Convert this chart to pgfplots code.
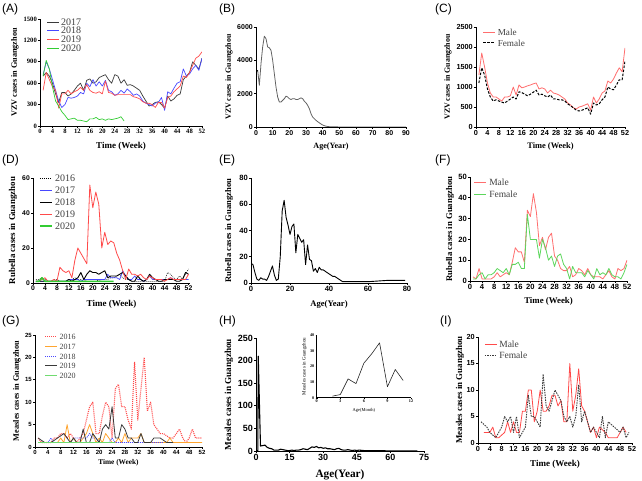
\documentclass[border=0pt]{standalone}
\usepackage{fontspec}
\setmainfont{Liberation Serif}
\setsansfont{Liberation Sans}
\usepackage{pgfplots}
\usepackage{pgfplotstable}
\pgfplotsset{compat=1.18}
\newcommand{\fs}[1]{\fontsize{#1}{#1}\selectfont}
\definecolor{cblue}{HTML}{4848FF}
\definecolor{cred}{HTML}{FF4A4A}
\definecolor{cgreen}{HTML}{33CC33}
\definecolor{cpink}{HTML}{FF6E6E}
\definecolor{corange}{HTML}{FFA530}
\definecolor{cdark}{HTML}{3A3A3A}
\pgfplotsset{
  legend image code/.code={\draw[#1] (0pt,0pt) -- (12pt,0pt);},
  panel/.style={scale only axis, anchor=south west,
    axis x line*=bottom, axis y line*=left,
    axis line style={-, line width=0.8pt},
    every tick/.style={black, line width=0.7pt},
    tick align=outside, major tick length=2pt, tick pos=left,
    /pgf/number format/assume math mode=true,
    /pgf/number format/1000 sep={},
    xticklabel style={inner sep=1pt}, yticklabel style={inner sep=1pt},
    legend cell align=left,
    legend style={draw=none, fill=none, anchor=north west, inner sep=0pt, outer sep=0pt, xshift=3.5pt, text=black!75},
    every axis plot/.append style={line width=0.7pt, line join=round, mark=none},
  },
}
\pgfplotstableread{
w a17 a18 a19 a20
1 700 720 500 700
2 750 900 750 920
3 700 800 650 800
4 600 650 550 550
5 450 500 500 350
6 330 350 250 280
7 470 260 450 200
8 470 300 450 150
9 420 400 500 90
10 450 390 450 100
11 500 400 480 110
12 560 420 500 80
13 600 470 540 80
14 500 450 500 70
15 640 600 580 60
16 660 550 500 100
17 600 650 470 100
18 620 560 460 120
19 680 620 480 90
20 700 560 450 100
21 720 640 630 80
22 650 500 470 100
23 600 480 460 90
24 720 430 430 100
25 700 450 440 110
26 600 500 440 130
27 650 460 440 70
28 570 520 440 nan
29 580 480 440 nan
30 560 430 410 nan
31 530 450 400 nan
32 500 420 380 nan
33 420 350 340 nan
34 350 320 320 nan
35 280 300 320 nan
36 300 280 300 nan
37 330 320 260 nan
38 340 330 330 nan
39 300 400 330 nan
40 250 220 250 nan
41 420 480 400 nan
42 350 450 420 nan
43 380 530 480 nan
44 430 600 520 nan
45 450 620 560 nan
46 650 800 700 nan
47 700 700 680 nan
48 750 730 750 nan
49 900 800 850 nan
50 850 850 950 nan
51 800 780 980 nan
52 950 950 1040 nan
}\tabA
\pgfplotstableread{
age v
1 3400
2 2500
3 3800
4 4800
5 5450
6 5300
7 4800
8 4750
9 4600
10 4000
11 3200
12 2400
13 1800
14 1500
15 1500
16 1600
17 1700
18 1850
19 1800
20 1700
21 1650
22 1700
23 1700
24 1650
25 1650
26 1700
27 1750
28 1700
29 1550
30 1450
31 1300
32 1100
33 800
34 600
35 500
36 400
37 320
38 250
39 180
40 120
41 80
42 50
43 30
44 20
45 10
50 5
60 2
70 1
80 0
90 0
}\tabB
\pgfplotstableread{
w m f
1 1300 1100
2 1850 1480
3 1500 1300
4 1100 950
5 850 750
6 750 650
7 750 680
8 700 650
9 650 620
10 750 600
11 750 650
12 780 700
13 1000 750
14 800 700
15 1050 880
16 980 860
17 1000 820
18 1030 780
19 1050 820
20 1080 870
21 1100 920
22 950 800
23 980 820
24 950 780
25 850 750
26 920 800
27 850 700
28 830 700
29 800 680
30 750 680
31 700 650
32 600 580
33 550 530
34 480 480
35 450 420
36 500 400
37 520 420
38 550 450
39 580 480
40 420 320
41 750 600
42 600 550
43 700 580
44 850 680
45 900 750
46 1150 1000
47 1100 950
48 1200 930
49 1350 1050
50 1480 1180
51 1380 1180
52 1980 1650
}\tabC
\pgfplotstableread{
w d16 d17 d18 d19 d20
1 2 1 1 1 1
2 2 1 1 1 1
3 3 1 1 2 3
4 2 1 1 3 1
5 1 1 1 1 1
6 1 1 1 1 1
7 2 1 1 2 1
8 2 1 1 1 1
9 1 1 1 9 1
10 1 1 1 7 1
11 1 1 1 6 1
12 2 2 2 7 1
13 2 2 1 3 1
14 3 2 2 13 1
15 2 2 3 20 1
16 2 1 6 17 1
17 1 2 2 14 1
18 2 2 5 11 1
19 2 2 7 56 1
20 2 2 6 43 1
21 2 2 6 52 1
22 1 2 5 45 1
23 2 2 6 20 1
24 2 2 7 29 1
25 2 5 3 22 1
26 3 3 4 24 1
27 3 3 4 23 1
28 4 3 4 17 nan
29 5 2 5 13 nan
30 3 7 6 7 nan
31 2 4 4 2 nan
32 2 2 2 8 nan
33 1 2 1 5 nan
34 1 4 1 5 nan
35 1 2 4 4 nan
36 1 2 2 5 nan
37 1 1 1 3 nan
38 1 2 2 2 nan
39 1 4 5 4 nan
40 1 2 3 3 nan
41 1 2 2 2 nan
42 1 2 1 2 nan
43 1 2 1 2 nan
44 1 2 2 1 nan
45 6 2 2 2 nan
46 5 3 2 3 nan
47 3 2 2 2 nan
48 2 2 1 2 nan
49 4 2 1 2 nan
50 2 2 2 2 nan
51 5 2 6 2 nan
52 8 2 5 5 nan
}\tabD
\pgfplotstableread{
age v
0 15
1 14
2 8
3 3
4 2
5 4
6 3
7 3
8 2
9 5
10 9
11 13
12 6
13 2
14 3
15 20
16 55
17 63
18 50
19 44
20 37
21 43
22 45
23 23
24 37
25 34
26 31
27 33
28 14
29 29
30 18
31 17
32 9
33 11
34 8
35 12
36 10
37 10
38 9
39 8
40 7
41 6
42 5
43 5
44 4
45 3
46 2
47 1
50 1
60 1
70 2
79 2
}\tabE
\pgfplotstableread{
w m f
1 2 1
2 1 1
3 6 3
4 1 4
5 1 1
6 1 3
7 1 3
8 2 4
9 4 6
10 2 5
11 3 4
12 4 6
13 3 3
14 9 8
15 16 8
16 14 9
17 14 6
18 9 6
19 34 32
20 31 20
21 42 20
22 33 20
23 17 11
24 21 20
25 15 16
26 21 10
27 23 12
28 12 7
29 10 12
30 6 13
31 5 8
32 5 6
33 7 1
34 2 7
35 3 4
36 6 4
37 5 4
38 3 2
39 6 5
40 3 3
41 2 1
42 2 6
43 2 3
44 1 4
45 3 3
46 5 6
47 2 3
48 1 2
49 6 2
50 5 1
51 6 4
52 10 8
}\tabF
\pgfplotstableread{
w g16 g17 g18 g19 g20
1 2 1 1 2 1
2 1 1 1 1.5 1
3 1 1 1 1 1
4 1 1 1 1 1
5 1 1 2 1 1
6 2 1 1 1.5 1
7 2 1 1 2 1
8 3 2 1 2.5 1
9 3 1 1 3 1
10 2 5 1 2 1
11 3 1 1 1 1
12 2 2 2 2 1
13 1 1 2 1 1
14 2 1 2 1 1
15 3 2 2 4 1
16 6 3 2 1 1
17 9 5 3 1 1
18 10 3 2 3 1
19 3 1 2 2 1
20 3 2 1 1 1
21 7 1 1 4 1
22 10 3 1 5 1
23 9 2 1 4 1
24 2 1 2 9 1
25 13 1 1 2 1
26 14 2 1 2 nan
27 9 1 1 5 nan
28 9 3 1 4 nan
29 6 1 1 2 nan
30 4 2 1 2 nan
31 19 2 1 1 nan
32 6 2 1 1 nan
33 13 3 1 3 nan
34 20 1 1 1 nan
35 8 1 1 1 nan
36 10 1 1 1 nan
37 5 1 1 2 nan
38 4 1 1 2 nan
39 3 1 1 2 nan
40 3 1 1 1.5 nan
41 2.5 1 nan 1 nan
42 2 2 nan 1 nan
43 2 1 nan 1 nan
44 3 1 nan nan nan
45 4 1 nan nan nan
46 2 1 nan nan nan
47 1 1 nan nan nan
48 2 1 nan nan nan
49 4 1 nan nan nan
50 2 1 nan nan nan
51 2 1 nan nan nan
52 2 1 nan nan nan
}\tabG
\pgfplotstableread{
age v
0.8 0
1 210
2 11
3 12
4 13
5 8
6 6
7 5
8 2
9 2
10 2
11 4
12 3
13 2
14 1
15 1
16 2
17 1
18 2
19 2
20 3
21 5
22 4
23 3
24 6
25 9
26 8
27 10
28 7
29 8
30 6
31 7
32 5
33 5
34 4
35 3
36 5
37 6
38 3
39 2
40 2
41 3
42 2
43 1
44 2
45 1
46 2
48 1
50 1
55 1
60 0
72 0
}\tabH
\pgfplotstableread{
m v
2 1
3 2
4 12
5 9
6 22
7 28
8 35
9 7
10 18
11 11
}\tabHi
\pgfplotstableread{
w m f
1 nan 4
2 2 3.5
3 2 3
4 2 2
5 3 1.5
6 1 1
7 1 2
8 1.5 3
9 2 5
10 4 4
11 2 5
12 4 2
13 2 5
14 2 1
15 6 2
16 6 3
17 10 9
18 10 5
19 4 5
20 6 4
21 10 3
22 6 13
23 6 7
24 7 6
25 9 8
26 9 10
27 7 9
28 8 8
29 4 5
30 4 4
31 15 5
32 6 3
33 9 5
34 14 11
35 7 4
36 6 6
37 4 4
38 2 2
39 3 3
40 1 2
41 3 1
42 2.5 5
43 2 1
44 1 4
45 1 3.5
46 1 3
47 1 2.5
48 2 2
49 3 3
50 2 1
51 nan 2
}\tabI
\begin{document}
\begin{tikzpicture}[x=1pt,y=1pt]
\path[use as bounding box] (0pt,0pt) rectangle (642pt,480pt);
% panel letters
\foreach \l/\px/\py in {A/2/476, B/219/476, C/435/476, D/2/325, E/219/325, F/435/325, G/2/164, H/219/164, I/440/164}
  \node[anchor=north west, inner sep=0pt, font=\sffamily\fs{12}] at (\px pt,\py pt) {(\l)};
% ---------------- A
\begin{axis}[panel, at={(40pt,354pt)}, width=162pt, height=107pt,
  xmin=0, xmax=52, ymin=0, ymax=1500,
  xtick={0,4,...,52}, ytick={0,300,...,1500},
  tick label style={font=\bfseries\fs{6.6}},
  xlabel={Time (Week)}, ylabel={VZV cases in Guangzhou},
  xlabel style={font=\bfseries\fs{9}, at={(axis description cs:0.5,-0.187)}, anchor=center},
  ylabel style={font=\bfseries\fs{8.2}, at={(axis description cs:-0.154,0.5)}, anchor=center},
  legend style={at={(axis description cs:0.0225,1.0126)}, font=\fs{10},
    nodes={text height=6pt, text depth=0pt, inner sep=1.35pt}},
]
\addplot[cdark] table[x=w,y=a17] {\tabA};
\addplot[cblue] table[x=w,y=a18] {\tabA};
\addplot[cred] table[x=w,y=a19] {\tabA};
\addplot[cgreen] table[x=w,y=a20] {\tabA};
\legend{2017,2018,2019,2020}
\end{axis}
% ---------------- B
\begin{axis}[panel, at={(256pt,353pt)}, width=150pt, height=100pt,
  xmin=0, xmax=90, ymin=0, ymax=6000,
  xtick={0,10,...,90}, ytick={0,2000,4000,6000},
  tick label style={font=\sffamily\bfseries\fs{7}},
  xlabel={Age(Year)}, ylabel={VZV cases in Guangzhou},
  xlabel style={font=\bfseries\fs{8.1}, at={(axis description cs:0.5,-0.2)}, anchor=center},
  ylabel style={font=\bfseries\fs{7.9}, at={(axis description cs:-0.18,0.5)}, anchor=center},
]
\addplot[black!62, line width=0.8pt] table[x=age,y=v] {\tabB};
\addplot[black, line width=0.9pt] coordinates {(0,400) (0.2,3300) (1,3400)};
\end{axis}
% ---------------- C
\begin{axis}[panel, at={(476pt,353pt)}, width=149pt, height=100pt,
  xmin=0, xmax=52, ymin=0, ymax=2500,
  xtick={0,4,...,52}, ytick={0,500,...,2500},
  tick label style={font=\sffamily\bfseries\fs{7.3}},
  xlabel={Time (Week)}, ylabel={VZV cases in Guangzhou},
  xlabel style={font=\bfseries\fs{8.4}, at={(axis description cs:0.5,-0.19)}, anchor=center},
  ylabel style={font=\bfseries\fs{7.9}, at={(axis description cs:-0.188,0.5)}, anchor=center},
  legend style={at={(axis description cs:0.022,1.005)}, font=\fs{9.2},
    nodes={text height=7pt, text depth=0pt, inner sep=2pt}},
]
\addplot[cpink, line width=0.8pt] table[x=w,y=m] {\tabC};
\addplot[black, line width=1pt, dash pattern=on 2.5pt off 1.5pt] table[x=w,y=f] {\tabC};
\legend{Male,Female}
\end{axis}
% ---------------- D
\begin{axis}[panel, at={(33pt,197pt)}, width=157pt, height=105pt,
  xmin=0, xmax=52.5, ymin=0, ymax=60,
  xtick={0,4,...,52}, ytick={0,20,40,60},
  tick label style={font=\sffamily\bfseries\fs{6.8}},
  xlabel={Time (Week)}, ylabel={Rubella cases in Guangzhou},
  xlabel style={font=\bfseries\fs{9}, at={(axis description cs:0.5,-0.2)}, anchor=center},
  ylabel style={font=\bfseries\fs{8.9}, at={(axis description cs:-0.127,0.5)}, anchor=center},
  legend style={at={(axis description cs:0.016,1.057)}, font=\fs{10},
    nodes={text height=7pt, text depth=0pt, inner sep=2.5pt}},
]
\addplot[black, line width=0.5pt, dash pattern=on 1pt off 1pt] table[x=w,y=d16] {\tabD};
\addplot[cblue] table[x=w,y=d17] {\tabD};
\addplot[black, line width=0.9pt] table[x=w,y=d18] {\tabD};
\addplot[cred, line width=0.8pt] table[x=w,y=d19] {\tabD};
\addplot[cgreen, line width=1.5pt] table[x=w,y=d20] {\tabD};
\legend{2016,2017,2018,2019,2020}
\end{axis}
% ---------------- E
\begin{axis}[panel, at={(251pt,197pt)}, width=156pt, height=105pt,
  xmin=0, xmax=80, ymin=0, ymax=80,
  xtick={0,20,...,80}, ytick={0,20,...,80},
  tick label style={font=\sffamily\bfseries\fs{7.6}},
  xlabel={Age(Year)}, ylabel={Rubella cases in Guangzhou},
  xlabel style={font=\bfseries\fs{8.6}, at={(axis description cs:0.5,-0.2)}, anchor=center},
  ylabel style={font=\bfseries\fs{8.6}, at={(axis description cs:-0.141,0.5)}, anchor=center},
]
\addplot[black, line width=0.9pt] table[x=age,y=v] {\tabE};
\end{axis}
% ---------------- F
\begin{axis}[panel, at={(470pt,199pt)}, width=157pt, height=104pt,
  xmin=0, xmax=52, ymin=0, ymax=50,
  xtick={0,4,...,52}, ytick={0,10,...,50},
  tick label style={font=\sffamily\bfseries\fs{7.6}},
  xlabel={Time (Week)}, ylabel={Rubella cases in Guangzhou},
  xlabel style={font=\bfseries\fs{8.8}, at={(axis description cs:0.5,-0.2)}, anchor=center},
  ylabel style={font=\bfseries\fs{8.7}, at={(axis description cs:-0.127,0.5)}, anchor=center},
  legend style={at={(axis description cs:0.003,1.007)}, font=\fs{9.5},
    nodes={text height=7pt, text depth=0pt, inner sep=2.5pt}},
]
\addplot[cpink, line width=0.8pt] table[x=w,y=m] {\tabF};
\addplot[cgreen!80!white, line width=0.8pt] table[x=w,y=f] {\tabF};
\legend{Male,Female}
\end{axis}
% ---------------- G
\begin{axis}[panel, at={(35pt,33pt)}, width=167pt, height=112pt,
  xmin=0, xmax=52, ymin=0, ymax=25,
  xtick={0,4,...,52}, ytick={0,5,...,25},
  tick label style={font=\sffamily\bfseries\fs{6}},
  xlabel={Time (Week)}, ylabel={Measles cases in Guangzhou},
  xlabel style={font=\bfseries\fs{7.3}, at={(axis description cs:0.5,-0.143)}, anchor=center},
  ylabel style={font=\bfseries\fs{8.3}, at={(axis description cs:-0.108,0.5)}, anchor=center},
  legend style={at={(axis description cs:0.036,1.029)}, font=\fs{8},
    nodes={text height=5.75pt, text depth=0pt, inner sep=2pt}},
]
\addplot[cred, line width=1.1pt, dash pattern=on 1pt off 1pt] table[x=w,y=g16] {\tabG};
\addplot[corange, line width=0.8pt] table[x=w,y=g17] {\tabG};
\addplot[cblue, line width=0.8pt, dash pattern=on 1pt off 1pt] table[x=w,y=g18] {\tabG};
\addplot[cdark, line width=0.8pt] table[x=w,y=g19] {\tabG};
\addplot[cgreen!70!white, line width=1pt] table[x=w,y=g20] {\tabG};
\legend{2016,2017,2018,2019,2020}
\end{axis}
% ---------------- H
\begin{axis}[panel, at={(256pt,29pt)}, width=168pt, height=113pt,
  xmin=0, xmax=75, ymin=0, ymax=250,
  xtick={0,15,...,75}, ytick={0,50,...,250},
  tick label style={font=\sffamily\bfseries\fs{9}},
  xlabel={Age(Year)}, ylabel={Measles cases in Guangzhou},
  xlabel style={font=\bfseries\fs{11.3}, at={(axis description cs:0.5,-0.212)}, anchor=center},
  ylabel style={font=\bfseries\fs{9.2}, at={(axis description cs:-0.161,0.5)}, anchor=center},
]
\addplot[black, line width=1.1pt] table[x=age,y=v] {\tabH};
\end{axis}
% inset
\begin{axis}[panel, at={(316.7pt,82.3pt)}, width=94.3pt, height=62.7pt,
  axis line style={-, line width=0.5pt}, every tick/.style={black, line width=0.4pt}, major tick length=1.2pt,
  xmin=0, xmax=12, ymin=0, ymax=40,
  xtick={0,3,...,12}, ytick={0,10,...,40},
  tick label style={font=\bfseries\fs{4.2}},
  xlabel={Age(Month)}, ylabel={Measles cases in Guangzhou},
  xlabel style={font=\fs{4.5}, at={(axis description cs:0.5,-0.21)}, anchor=center},
  ylabel style={font=\fs{5}, at={(axis description cs:-0.13,0.5)}, anchor=center},
]
\addplot[black!85, line width=0.6pt] table[x=m,y=v] {\tabHi};
\end{axis}
% ---------------- I
\begin{axis}[panel, at={(478pt,37pt)}, width=154pt, height=106pt,
  xmin=0, xmax=52, ymin=0, ymax=20,
  xtick={0,4,...,52}, ytick={0,5,...,20},
  tick label style={font=\sffamily\bfseries\fs{7.3}},
  xlabel={Time (Week)}, ylabel={Measles cases in Guangzhou},
  xlabel style={font=\bfseries\fs{9}, at={(axis description cs:0.5,-0.198)}, anchor=center},
  ylabel style={font=\bfseries\fs{8.9}, at={(axis description cs:-0.117,0.5)}, anchor=center},
  legend style={at={(axis description cs:0.019,0.986)}, font=\fs{9.5},
    nodes={text height=7pt, text depth=0pt, inner sep=2pt}},
]
\addplot[cred, line width=0.8pt] table[x=w,y=m] {\tabI};
\addplot[cdark, line width=0.9pt, dash pattern=on 1.5pt off 1pt] table[x=w,y=f] {\tabI};
\legend{Male,Female}
\end{axis}
\end{tikzpicture}
\end{document}
